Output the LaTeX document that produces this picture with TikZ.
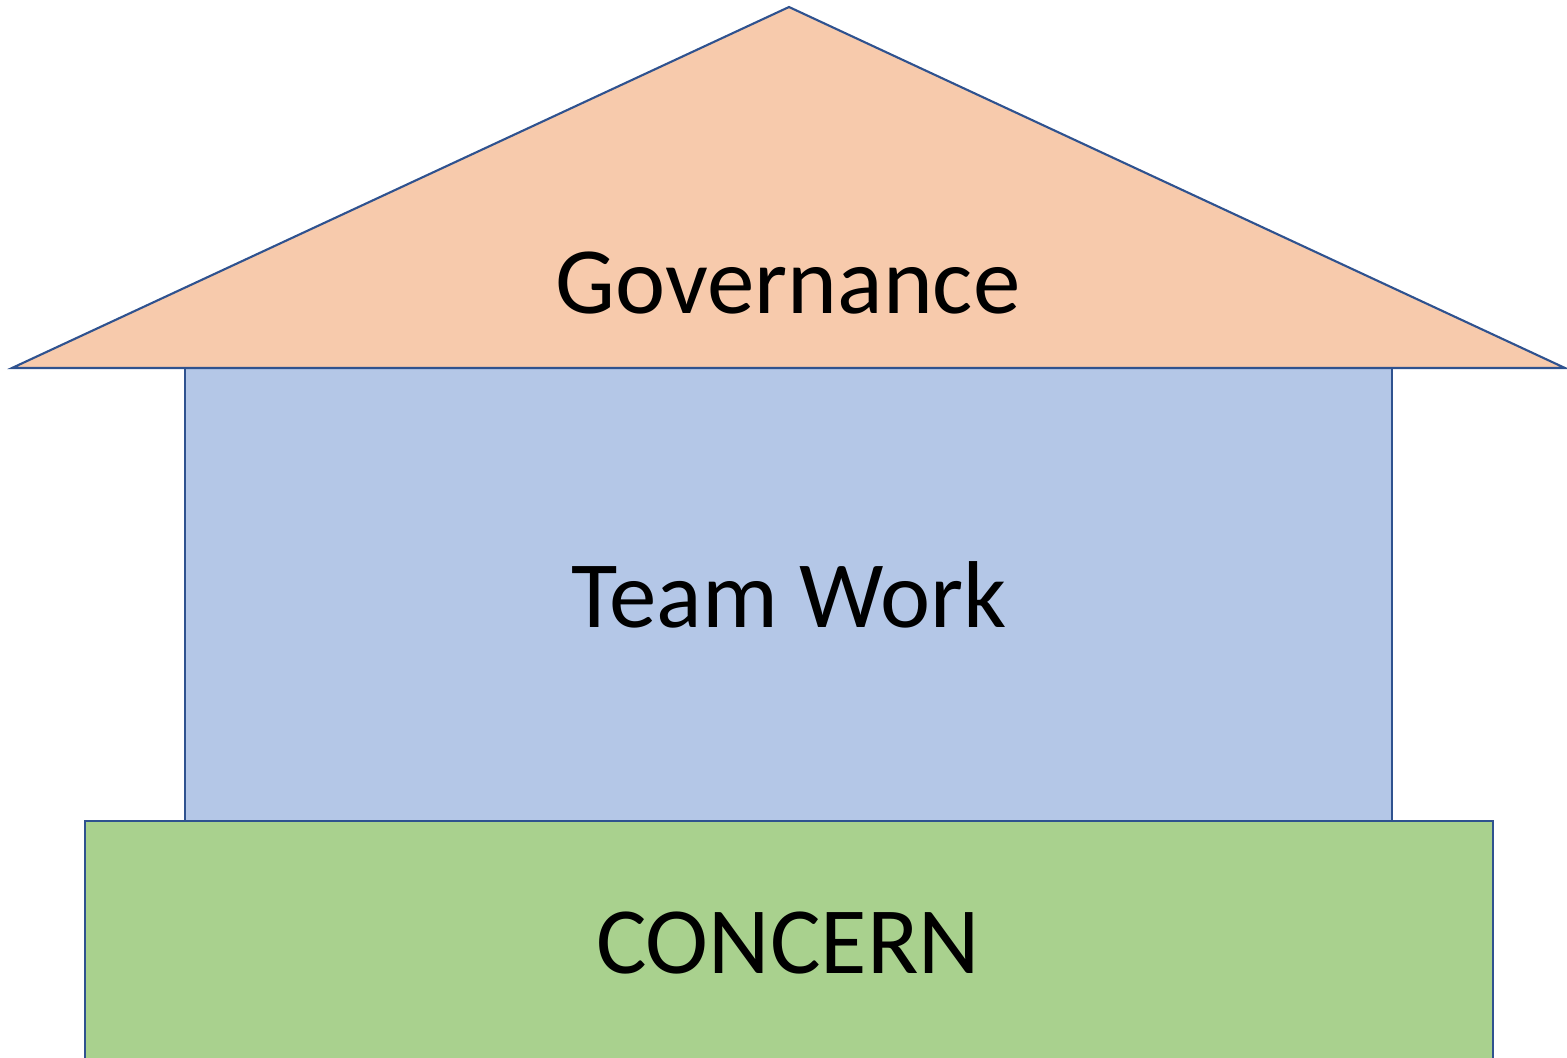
\documentclass[tikz,border=0pt]{standalone}
\usepackage{fontspec}
\setmainfont{Carlito}
\usepackage{xcolor}
\usetikzlibrary{positioning, calc}
\definecolor{houseline}{RGB}{47,82,143}
\definecolor{roofpeach}{RGB}{247,202,172}
\definecolor{wallblue}{RGB}{180,199,231}
\definecolor{basegreen}{RGB}{169,209,142}
\tikzset{
  % House part (parameterized by fill color)
  housepart/.style={draw=houseline, fill=#1, line width=0.6pt, line join=miter},
  partlabel/.style={font=\fontsize{27}{32}\selectfont, text=black, anchor=base, inner sep=0pt}
}

\begin{document}
\begin{tikzpicture}[x=0.01cm, y=-0.01cm]
  \useasboundingbox (0,0) rectangle (1567,1057);

  % Foundation
  \begin{scope}
    \clip (0,0) rectangle (1567,1057);
    \draw[housepart=basegreen] (85,821) rectangle (1493,1070);
  \end{scope}

  % Walls
  \draw[housepart=wallblue] (185,368) rectangle (1392,821);

  % Roof
  \draw[housepart=roofpeach] (12,368) -- (789,7) -- (1565,368) -- cycle;

  % Labels
  \node[partlabel] (gov) at (788,313) {Governance};
  \node[partlabel] (team) at (789,627) {Team Work};
  \node[partlabel] (concern) at (788,973) {CONCERN};
\end{tikzpicture}
\end{document}
